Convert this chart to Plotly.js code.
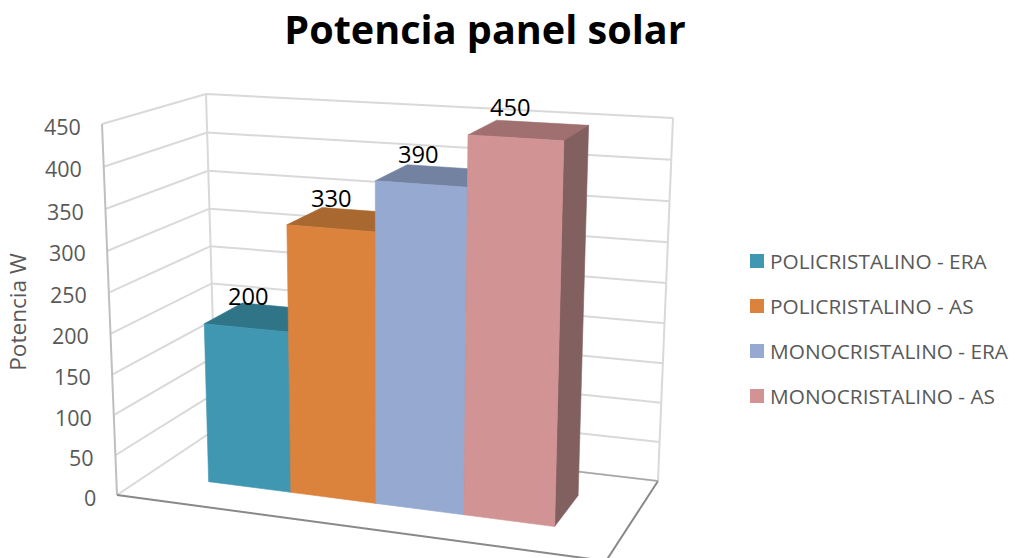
<!DOCTYPE html>
<html>
<head>
<meta charset="utf-8">
<script src="https://cdn.plot.ly/plotly-3.0.1.min.js"></script>
<style>html,body{margin:0;padding:0;background:#fff}</style>
</head>
<body>
<div id="chart" style="width:1015px;height:558px"></div>
<script>
// Series shown as one row of 3D columns
const seriesNames = ['POLICRISTALINO - ERA', 'POLICRISTALINO - AS', 'MONOCRISTALINO - ERA', 'MONOCRISTALINO - AS'];
const seriesValues = [200, 330, 390, 450];
const frontColors = ['#4097B1', '#DB823D', '#95A9D1', '#D19393'];
const topColors = ['#307487', '#A96830', '#7282A0', '#A07070'];
const sideColors = ['#2A6475', '#8A5528', '#5F6C85', '#836060'];
const yTicks = [0, 50, 100, 150, 200, 250, 300, 350, 400, 450];

// Oblique box of the chart: [u along the categories, v into the depth, value/450]
const box = {
  floor: {A: [117, 495], B: [606, 561], C: [658, 481], D: [216, 429]},
  ceil:  {A: [102, 124], B: [618, 158], C: [673, 118], D: [206, 94]}
};
const yMax = 450;
const barFront = 0.32, barBack = 0.72;
const edgeU = i => 0.1265 + 0.1705 * i + 0.003 * i * i;

function project(u, v, val) {
  const bil = (p, k) => (1 - u) * (1 - v) * p.A[k] + u * (1 - v) * p.B[k] + u * v * p.C[k] + (1 - u) * v * p.D[k];
  const s = val / yMax;
  // The camera looks slightly downward, so upper values span a little more height
  const t = 0.96 * s + 0.04 * s * s;
  return [0, 1].map(k => bil(box.floor, k) * (1 - t) + bil(box.ceil, k) * t);
}

function polyline(points, color, width) {
  return {
    type: 'scatter', mode: 'lines', showlegend: false, hoverinfo: 'skip',
    x: points.map(p => p ? p[0] : null), y: points.map(p => p ? p[1] : null),
    line: {color: color, width: width}
  };
}

function face(points, color, name) {
  const closed = points.concat([points[0]]);
  return {
    type: 'scatter', mode: 'lines', fill: 'toself', fillcolor: color, name: name,
    showlegend: false, hoverinfo: 'skip',
    x: closed.map(p => p[0]), y: closed.map(p => p[1]),
    line: {color: color, width: 0.6}
  };
}

const traces = [];

// Walls: gridlines run along the left wall, then across the back wall
const grid = [];
yTicks.forEach(t => {
  grid.push(project(0, 0, t), project(0, 1, t), project(1, 1, t), null);
});
traces.push(polyline(grid, '#D9D9D9', 2));
traces.push(polyline([project(0, 1, 0), project(0, 1, yMax), null, project(1, 1, 0), project(1, 1, yMax)], '#D9D9D9', 2));
traces.push(polyline([project(0, 0, 0), project(0, 0, yMax)], '#BFBFBF', 2));
traces.push(polyline([project(0, 0, 0), project(1, 0, 0), project(1, 1, 0)], '#898989', 2));
traces.push(polyline([project(0.72, 1, 0), project(1, 1, 0)], '#A6A6A6', 1.5));

// Columns, left to right so each front hides the previous side
seriesValues.forEach((val, i) => {
  const u0 = edgeU(i), u1 = edgeU(i + 1);
  traces.push(face([project(u0, barFront, val), project(u1, barFront, val), project(u1, barBack, val), project(u0, barBack, val)], topColors[i], seriesNames[i] + ' top'));
  traces.push(face([project(u1, barFront, 0), project(u1, barBack, 0), project(u1, barBack, val), project(u1, barFront, val)], sideColors[i], seriesNames[i] + ' side'));
  traces.push(face([project(u0, barFront, 0), project(u1, barFront, 0), project(u1, barFront, val), project(u0, barFront, val)], frontColors[i], seriesNames[i]));
});

const annotations = [];

// Key on the right
seriesNames.forEach((name, i) => {
  traces.push({
    type: 'scatter', mode: 'markers', showlegend: false, hoverinfo: 'skip', name: name,
    x: [757], y: [261 + 45 * i],
    marker: {symbol: 'square', size: 14, color: frontColors[i]}
  });
  annotations.push({
    x: 768, y: 260.5 + 45 * i, xref: 'x', yref: 'y', xanchor: 'left', yanchor: 'middle',
    text: name, showarrow: false,
    font: {family: 'Open Sans, sans-serif', size: 20.8, color: '#595959'}
  });
});

yTicks.forEach(t => {
  const p = project(0, 0, t);
  annotations.push({
    x: p[0] - 19.5, y: p[1] + 2, xref: 'x', yref: 'y', xanchor: 'right', yanchor: 'middle',
    text: String(t), showarrow: false,
    font: {family: 'Open Sans, sans-serif', size: 21.5, color: '#595959'}
  });
});
seriesValues.forEach((val, i) => {
  const p = project(edgeU(i) + 0.014 + 0.005 * i, barBack, val);
  annotations.push({
    x: p[0], y: p[1], xref: 'x', yref: 'y', yshift: 8 + 2 * i, xanchor: 'center', yanchor: 'middle',
    text: String(val), showarrow: false,
    font: {family: 'Open Sans, sans-serif', size: 23.7, color: '#000000'}
  });
});

const layout = {
  width: 1015, height: 558,
  margin: {l: 35, r: 0, t: 66, b: 0},
  paper_bgcolor: '#ffffff', plot_bgcolor: '#ffffff',
  showlegend: false,
  title: {
    text: 'Potencia panel solar',
    x: 485 / 1015, xanchor: 'center', y: 1 - 30 / 558, yanchor: 'middle',
    font: {family: 'Open Sans, sans-serif', size: 39.6, color: '#000000', weight: 700}
  },
  xaxis: {range: [35, 1015], visible: false, fixedrange: true},
  yaxis: {
    range: [558, 66], fixedrange: true, showgrid: false, zeroline: false, showline: false,
    showticklabels: false, ticks: '',
    title: {text: 'Potencia W', standoff: 1, font: {family: 'Open Sans, sans-serif', size: 22.6, color: '#595959'}}
  },
  annotations: annotations
};

Plotly.newPlot('chart', traces, layout, {displayModeBar: false, staticPlot: true});
</script>
</body>
</html>
